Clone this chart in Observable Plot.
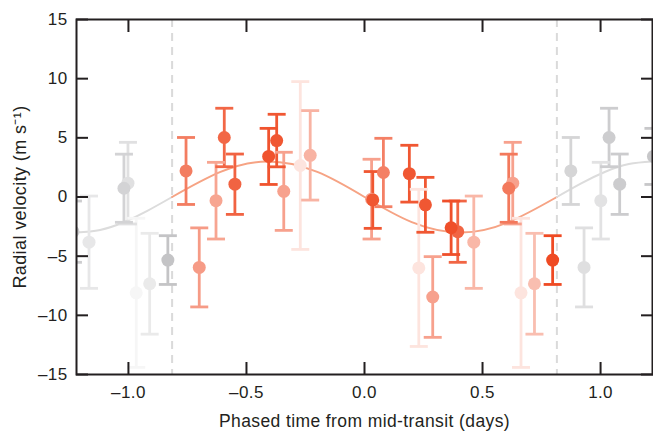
<!DOCTYPE html>
<html><head><meta charset="utf-8">
<script src="https://cdn.jsdelivr.net/npm/d3@7"></script>
<script src="https://cdn.jsdelivr.net/npm/@observablehq/plot@0.6"></script>
<style>body{margin:0;background:#fff;} svg{display:block}</style>
</head><body><div id="chart"></div>
<script>
// Orbital period used for phase folding (days) and transit-window edges
const PERIOD = 1.63;
const transitEdges = [-0.815, 0.815];

// Measurements (phase in days, radial velocity in m/s, 1-sigma error, colour intensity)
const phase = [-0.756, -0.700, -0.629, -0.594, -0.549, -0.406, -0.372, -0.342, -0.272, -0.230,
               0.030, 0.035, 0.080, 0.190, 0.258, 0.230, 0.289, 0.367, 0.395, 0.463,
               0.611, 0.628, 0.663, 0.720, 0.797];
const rv    = [2.20, -5.95, -0.31, 5.03, 1.08, 3.43, 4.77, 0.48, 2.66, 3.52,
               -0.18, -0.25, 2.07, 1.97, -0.66, -5.99, -8.45, -2.60, -2.93, -3.82,
               0.74, 1.17, -8.10, -7.33, -5.33];
const err   = [2.83, 3.34, 3.24, 2.47, 2.55, 2.37, 2.22, 3.30, 7.09, 3.78,
               3.37, 2.40, 2.89, 2.40, 2.32, 6.64, 3.41, 2.26, 2.59, 3.90,
               2.88, 3.45, 6.30, 4.26, 2.06];
const shade = [0.72, 0.55, 0.50, 0.84, 0.86, 0.95, 0.93, 0.52, 0.15, 0.42,
               0.52, 0.93, 0.70, 0.93, 0.93, 0.15, 0.52, 0.97, 0.85, 0.40,
               0.74, 0.52, 0.15, 0.36, 1.00];

// Model curve
const curvePhase = [-1.22, -1.12, -1.02, -0.92, -0.815, -0.61, -0.41, -0.2, 0, 0.2, 0.41, 0.61, 0.815, 0.92, 1.02, 1.12, 1.22];
const curveRV    = [-3.0, -2.78, -2.13, -1.17, 0, 2.12, 3.0, 2.12, 0, -2.12, -3.0, -2.12, 0, 1.17, 2.13, 2.78, 3.0];

// Axes
const xTicks = [-1, -0.5, 0, 0.5, 1];
const yTicks = [-15, -10, -5, 0, 5, 10, 15];
const xDomain = [-1.22, 1.22];
const yDomain = [-15, 15];
const xLabel = "Phased time from mid-transit (days)";
const yLabel = "Radial velocity (m s⁻¹)";

const ink = "#231f20";
const orange = d3.interpolateRgb("#ffffff", "#ef4a23");
const grey = d3.interpolateRgb("#ffffff", "#c4c4c6");

const pts = phase.map((p, i) => ({x: p, y: rv[i], lo: rv[i] - err[i], hi: rv[i] + err[i], s: shade[i]}));
const main = pts.map(d => ({...d, color: orange(d.s)})).sort((a, b) => a.s - b.s);
const copies = pts.flatMap(d => [{...d, x: d.x - PERIOD}, {...d, x: d.x + PERIOD}])
  .filter(d => d.x > xDomain[0] - 0.07 && d.x < xDomain[1] + 0.07)
  .map(d => ({...d, color: grey(d.s)}))
  .sort((a, b) => a.s - b.s);
const all = [...copies, ...main];

const curveRows = curvePhase.flatMap((x, i) => {
  const segs = [];
  if (x <= transitEdges[0]) segs.push("outL");
  if (x >= transitEdges[0] && x <= transitEdges[1]) segs.push("in");
  if (x >= transitEdges[1]) segs.push("outR");
  return segs.map(s => ({x, y: curveRV[i], seg: s, color: s === "in" ? "#f6a384" : "#dcdcdc"}));
});

const capSymbol = {draw(ctx, size) { const w = Math.sqrt(size / Math.PI); ctx.moveTo(-w, 0); ctx.lineTo(w, 0); }};
const fmt = f => d => d3.format(f)(d).replace("−", "–").replace("-", "–");

const chart = Plot.plot({
  width: 653, height: 431,
  marginLeft: 76, marginRight: 1, marginTop: 19, marginBottom: 57,
  x: {domain: xDomain},
  y: {domain: yDomain},
  color: {type: "identity"},
  style: {fontFamily: "'Liberation Sans', Arial, sans-serif", fontSize: "17px", color: ink, background: "white", letterSpacing: "0.4px"},
  marks: [
    Plot.ruleX(transitEdges, {x: d => d, stroke: "#dadada", strokeWidth: 2, strokeDasharray: "8,6"}),
    Plot.line(curveRows, {x: "x", y: "y", z: "seg", stroke: "color", strokeWidth: 2, curve: "natural", clip: true}),
    Plot.ruleX(all, {x: "x", y1: "lo", y2: "hi", stroke: "color", strokeWidth: 2.8, clip: true}),
    Plot.dot(all, {x: "x", y: "lo", symbol: capSymbol, r: 9, stroke: "color", fill: "none", strokeWidth: 2.8, clip: true}),
    Plot.dot(all, {x: "x", y: "hi", symbol: capSymbol, r: 9, stroke: "color", fill: "none", strokeWidth: 2.8, clip: true}),
    Plot.dot(all, {x: "x", y: "y", r: 6.5, fill: "color", stroke: null, clip: true}),
    Plot.axisX({anchor: "bottom", ticks: xTicks, tickSize: -12, tickPadding: 23, tickFormat: fmt(".1f"), label: null, stroke: ink, strokeWidth: 2, fill: ink}),
    Plot.axisX({anchor: "top", ticks: xTicks, tickSize: -12, tickFormat: () => "", label: null, stroke: ink, strokeWidth: 2}),
    Plot.axisY({anchor: "left", ticks: yTicks, tickSize: -12, tickPadding: 21, tickFormat: fmt("d"), label: null, stroke: ink, strokeWidth: 2, fill: ink}),
    Plot.axisY({anchor: "right", ticks: yTicks, tickSize: -12, tickFormat: () => "", label: null, stroke: ink, strokeWidth: 2}),
    Plot.frame({stroke: ink, strokeWidth: 2}),
    Plot.text([xLabel], {text: d => d, frameAnchor: "bottom", dy: 47, lineAnchor: "middle", textAnchor: "middle", fill: ink, fontSize: 17.5}),
    Plot.text([yLabel], {text: d => d, frameAnchor: "left", dx: -56, rotate: -90, lineAnchor: "middle", textAnchor: "middle", fill: ink, fontSize: 18})
  ]
});
document.getElementById("chart").append(chart);
</script>
</body></html>
